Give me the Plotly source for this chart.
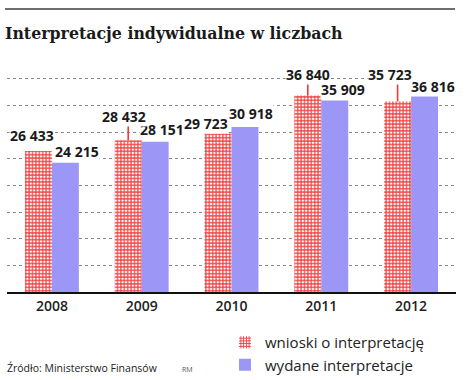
import plotly.graph_objects as go

# ---- data ----
years = ["2008", "2009", "2010", "2011", "2012"]
wnioski = [26433, 28432, 29723, 36840, 35723]   # wnioski o interpretację
wydane = [24215, 28151, 30918, 35909, 36816]    # wydane interpretacje
series_names = ["wnioski o interpretację", "wydane interpretacje"]

# ---- styling ----
RED = "#f03a3a"
BLUE = "#9c96f6"
W, H = 468, 380
ML, MR, MT, MB = 7, 12, 68, 88
YMAX = 42000
BAR_HALF = 13.5  # px offset of each bar centre from the category centre

def fmt(v):
    return f"{v:,}".replace(",", " ")

# label nudges (px): (dx from bar centre, dy above bar top, leader length)
red_nudge = [(-6, 16, 0), (-4, 24, 16), (-12, 10, 0), (0, 21, 13), (-8, 27, 19)]
blue_nudge = [(12, 11, 0), (7, 12, 0), (6, 14, 0), (8, 11, 0), (8, 9, 0)]

fig = go.Figure()
fig.add_trace(go.Bar(
    x=years, y=wnioski, name=series_names[0],
    marker=dict(color=RED, line=dict(width=0),
                pattern=dict(shape="+", fgcolor=RED, bgcolor="white",
                             size=3.4, solidity=0.55, fillmode="replace")),
))
fig.add_trace(go.Bar(
    x=years, y=wydane, name=series_names[1],
    marker=dict(color=BLUE, line=dict(width=0)),
))

lab_font = dict(family="Open Sans", size=14, color="#1a1a1a", weight="bold")
annotations = []
# blue labels first so red ones sit on top
for i, yr in enumerate(years):
    xi = years.index(yr)  # category serial number
    dx, dy, lead = blue_nudge[i]
    annotations.append(dict(
        x=xi, y=wydane[i], xref="x", yref="y", text=fmt(wydane[i]),
        xshift=BAR_HALF + dx, yshift=dy, showarrow=False,
        font=lab_font, bgcolor="white", borderpad=0))
for i, yr in enumerate(years):
    xi = years.index(yr)
    dx, dy, lead = red_nudge[i]
    if lead:
        annotations.append(dict(
            x=xi, y=wnioski[i], xref="x", yref="y", text="",
            xshift=-BAR_HALF, showarrow=True, ax=0, ay=-lead,
            arrowhead=0, arrowwidth=1.6, arrowcolor=RED, standoff=0,
            font=dict(size=1)))
    annotations.append(dict(
        x=xi, y=wnioski[i], xref="x", yref="y", text=fmt(wnioski[i]),
        xshift=-BAR_HALF + dx, yshift=dy, showarrow=False,
        font=lab_font, bgcolor="white", borderpad=0))

plot_h = H - MT - MB
plot_w = W - ML - MR

def py(pix):
    return (H - MB - pix) / plot_h

def px(pix):
    return (pix - ML) / plot_w

annotations.append(dict(
    x=px(5), y=py(368), xref="paper", yref="paper", xanchor="left", yanchor="middle",
    text="Źródło: Ministerstwo Finansów", showarrow=False,
    font=dict(family="Open Sans", size=10.5, color="#222")))
annotations.append(dict(
    x=px(180), y=py(369), xref="paper", yref="paper", xanchor="left", yanchor="middle",
    text="RM", showarrow=False,
    font=dict(family="Open Sans", size=7, color="#555")))

shapes = [dict(type="line", xref="paper", yref="paper", x0=px(5), x1=px(455),
               y0=py(9), y1=py(9), line=dict(color="#6e6e6e", width=2))]

fig.update_layout(
    width=W, height=H,
    margin=dict(l=ML, r=MR, t=MT, b=MB, pad=0, autoexpand=False),
    paper_bgcolor="white", plot_bgcolor="white",
    barmode="group", bargap=0.4, bargroupgap=0,
    title=dict(text="<b>Interpretacje indywidualne w liczbach</b>",
               x=5 / W, xref="container", xanchor="left",
               y=1 - 33 / H, yref="container", yanchor="middle",
               pad=dict(l=0, r=0, t=0, b=0),
               font=dict(family="DejaVu Serif", size=15.8, color="#1a1a1a")),
    xaxis=dict(type="category", range=[-0.5, len(years) - 0.5],
               showline=True, linecolor="#111", linewidth=2, ticks="",
               tickfont=dict(family="Open Sans", size=14, color="#222", weight=600),
               showgrid=False),
    yaxis=dict(range=[0, YMAX], dtick=5000, showticklabels=False,
               showgrid=True, gridcolor="#8a8a8a", griddash="dot", gridwidth=1,
               zeroline=False, showline=False),
    legend=dict(x=px(225), y=py(326), xanchor="left", yanchor="top",
                font=dict(family="Open Sans", size=15, color="#222"),
                bgcolor="rgba(0,0,0,0)", tracegroupgap=2),
    annotations=annotations,
    shapes=shapes,
    showlegend=True,
)

fig.write_html("out.html", config={"displayModeBar": False},
               post_script="document.body.style.margin='0';document.body.style.padding='0';")
